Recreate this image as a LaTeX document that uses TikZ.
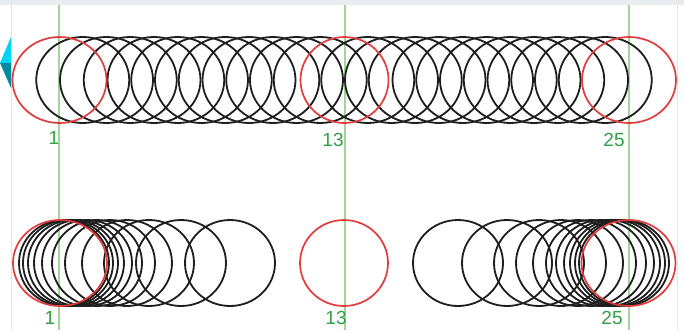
\documentclass[tikz,border=0pt]{standalone}
\usepackage{fontspec}
\setmainfont{Liberation Sans}
\definecolor{inkred}{RGB}{225,60,60}
\definecolor{ink}{RGB}{30,30,30}
\definecolor{guidegreen}{RGB}{160,215,150}
\definecolor{labgreen}{RGB}{50,160,70}
\definecolor{bandgray}{RGB}{232,236,239}
\definecolor{edgegray}{RGB}{228,228,228}
\definecolor{arrowcyan}{RGB}{0,212,245}
\definecolor{arrowteal}{RGB}{0,140,158}
\begin{document}
\begin{tikzpicture}[x=1pt,y=-1pt,
  blackc/.style={draw=ink,line width=1.8pt},
  redc/.style={draw=inkred,line width=1.7pt},
  guide/.style={draw=guidegreen,line width=1.6pt},
  lab/.style={text=labgreen,font=\fontsize{19}{19}\selectfont,inner sep=0pt}]
\useasboundingbox (0,0) rectangle (684,330);
\clip (0,0) rectangle (684,330);
\fill[white] (0,0) rectangle (684,330);
% frame bits
\fill[bandgray] (0,0) rectangle (684,5);
\draw[edgegray,line width=1.5pt] (11.5,5) -- (11.5,330);
\draw[edgegray,line width=1.5pt] (677.5,5) -- (677.5,330);
\fill[arrowcyan] (0,63) -- (11,37) -- (11,63) -- cycle;
\fill[arrowteal] (0,63) -- (11,63) -- (11,88) -- cycle;
% guides
\draw[guide] (59,5) -- (59,330);
\draw[guide] (345,5) -- (345,330);
\draw[guide] (629,5) -- (629,330);
% top row: even spacing
\foreach \n in {2,...,12,14,15,...,24}{
  \draw[blackc] ({59+23.75*(\n-1)},80) ellipse [x radius=46.5pt, y radius=43pt];
}
\draw[redc] (59.5,80) ellipse [x radius=47pt, y radius=43pt];
\draw[redc] (344.5,80) ellipse [x radius=44pt, y radius=43pt];
\draw[redc] (629,80) ellipse [x radius=47pt, y radius=43pt];
% bottom row: slow out / slow in
\foreach \p in {64,68,73,79,87,97,110,127,149,181,230}{
  \draw[blackc] (\p,263) ellipse [x radius=45pt, y radius=43pt];
  \draw[blackc] ({688-\p},263) ellipse [x radius=45pt, y radius=43pt];
}
\draw[redc] (60,263) ellipse [x radius=47pt, y radius=43pt];
\draw[redc] (344,263) ellipse [x radius=44pt, y radius=43pt];
\draw[redc] (628.5,263) ellipse [x radius=47pt, y radius=43pt];
% labels
\node[lab] (t1) at (54,138) {1};
\node[lab] (t13) at (333,140) {13};
\node[lab] (t25) at (614,140) {25};
\node[lab] (b1) at (50,318) {1};
\node[lab] (b13) at (336,318) {13};
\node[lab] (b25) at (612,318) {25};
\end{tikzpicture}
\end{document}
